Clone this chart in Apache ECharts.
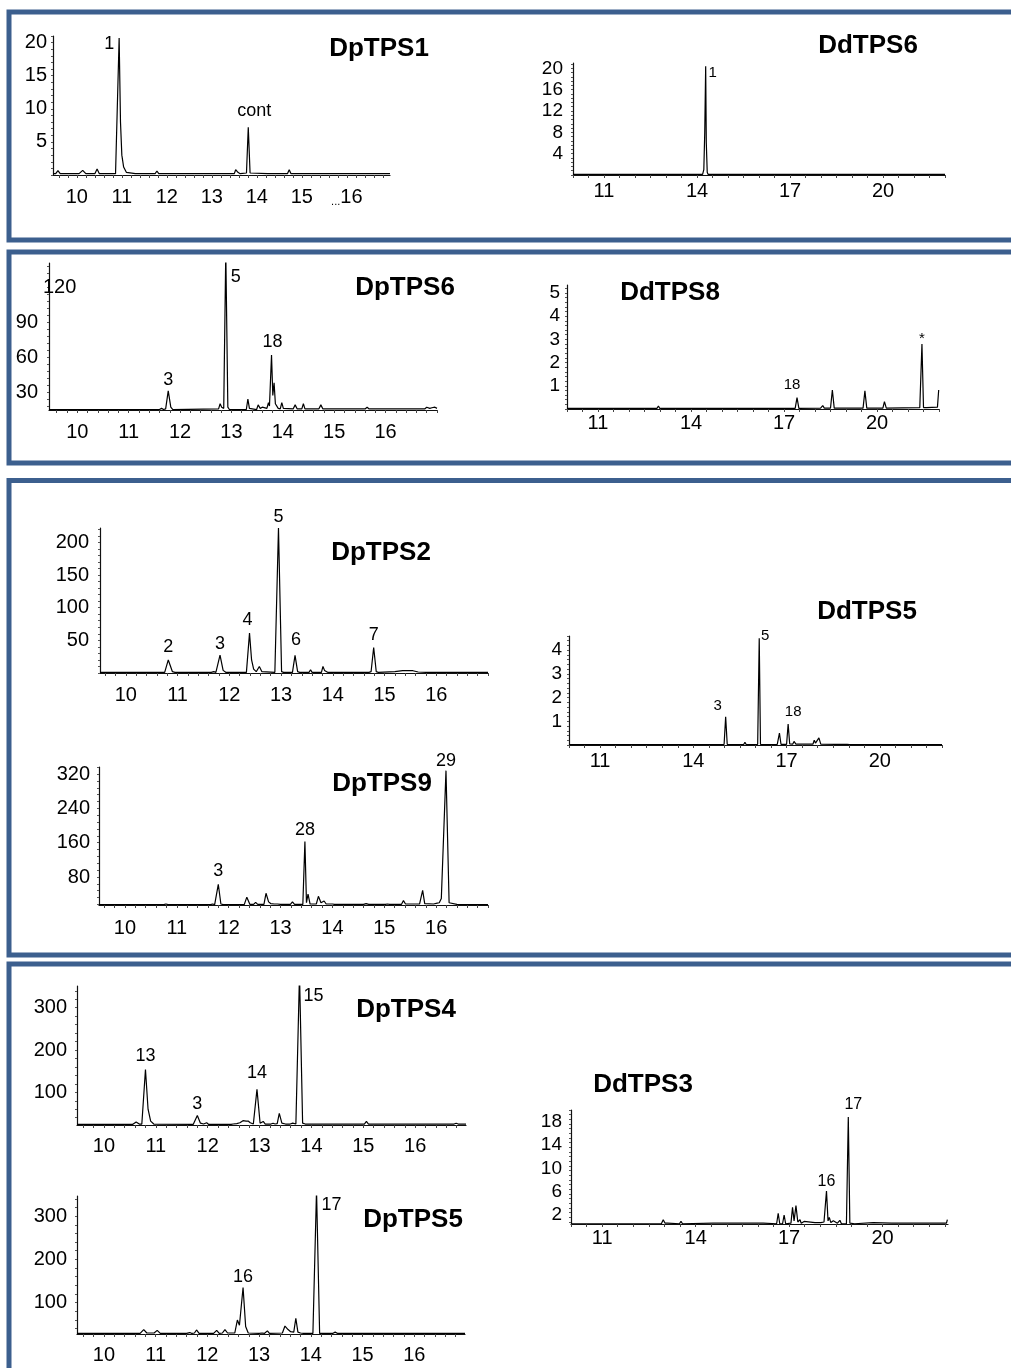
<!DOCTYPE html>
<html><head><meta charset="utf-8">
<script src="https://cdn.jsdelivr.net/npm/echarts@6/dist/echarts.min.js"></script>
<style>html,body{margin:0;padding:0;background:#fff}#c{width:1011px;height:1368px}</style>
</head><body><div id="c"></div>
<script>
// ---------------- DATA (retention time [min], abundance) ----------------
const xTicksDp = [10, 11, 12, 13, 14, 15, 16];
const xTicksDd = [11, 14, 17, 20];

const yTicksDpTPS1 = [5, 10, 15, 20];
const yTicksDdTPS6 = [4, 8, 12, 16, 20];
const yTicksDpTPS6 = [30, 60, 90];
const yTicksDpTPS6Top = [120];
const yTicksDdTPS8 = [1, 2, 3, 4, 5];
const yTicksDpTPS2 = [50, 100, 150, 200];
const yTicksDpTPS9 = [80, 160, 240, 320];
const yTicksDdTPS5 = [1, 2, 3, 4];
const yTicksDpTPS4 = [100, 200, 300];
const yTicksDpTPS5 = [100, 200, 300];
const yTicksDdTPS3 = [2, 6, 10, 14, 18];

const traceDpTPS1 = [[9.47,0.2],[9.53,0.2],[9.58,0.65],[9.63,0.2],[10.05,0.2],[10.13,0.7],[10.2,0.2],[10.4,0.2],[10.45,0.9],[10.5,0.2],[10.78,0.2],[10.82,0.5],[10.86,0.2],[10.89,0.3],[10.94,20.7],[10.97,8],[11.0,3],[11.04,1.2],[11.1,0.4],[11.3,0.2],[11.34,0.4],[11.38,0.2],[11.74,0.2],[11.78,0.6],[11.82,0.2],[12.3,0.2],[12.33,0.35],[12.36,0.2],[12.76,0.2],[12.79,0.45],[12.83,0.2],[13.5,0.2],[13.53,0.8],[13.58,0.4],[13.63,0.2],[13.77,0.3],[13.81,7.2],[13.85,0.3],[14.24,0.2],[14.27,0.4],[14.3,0.2],[14.68,0.2],[14.72,0.8],[14.76,0.2],[15.22,0.2],[15.25,0.3],[15.28,0.2],[16.96,0.2]];
const peaksDpTPS1 = [[10.94,20.7,'1'],[13.81,7.2,'cont']];

const traceDdTPS6 = [[10,0.1],[13.2,0.1],[13.23,0.25],[13.26,0.1],[14.18,0.1],[14.22,1],[14.25,8],[14.28,20.4],[14.3,6],[14.33,0.5],[14.36,0.1],[14.66,0.1],[14.69,0.35],[14.72,0.1],[14.87,0.1],[14.9,0.45],[14.93,0.1],[17.72,0.1],[17.75,0.3],[17.78,0.1],[18.02,0.1],[18.05,0.25],[18.08,0.1],[20.52,0.1],[20.55,0.15],[20.58,0.1],[20.94,0.1],[20.97,0.15],[21.0,0.1],[22,0.1]];
const peaksDdTPS6 = [[14.28,20.4,'1']];

const traceDpTPS6 = [[9.45,15],[11.6,15],[11.64,16],[11.68,15],[11.72,15.5],[11.77,31],[11.82,17],[11.86,15],[12.75,15.5],[12.78,20],[12.81,17],[12.85,16],[12.89,150],[12.93,17],[12.96,15],[13.29,15],[13.32,24],[13.35,16],[13.49,15],[13.52,19],[13.56,16],[13.6,17],[13.63,15.5],[13.69,16],[13.72,21],[13.74,18],[13.78,61.7],[13.805,27],[13.83,38],[13.855,20],[13.88,20],[13.91,16],[13.95,15.5],[13.98,21],[14.01,16],[14.2,15.5],[14.24,19],[14.28,15.5],[14.37,15.5],[14.4,20],[14.43,15.5],[14.7,15.5],[14.74,19],[14.78,15.5],[15.6,15.5],[15.64,17],[15.68,15.5],[16.76,15.5],[16.8,17],[16.86,16],[16.9,16.5],[16.96,17],[17.0,16]];
const peaksDpTPS6 = [[11.77,31,'3'],[12.89,140.6,'5'],[13.78,61.7,'18']];

const traceDdTPS8 = [[10,0.03],[12.9,0.03],[12.95,0.13],[12.99,0.03],[13.47,0.03],[13.52,0.1],[13.56,0.03],[14.5,0.03],[14.56,0.07],[14.62,0.03],[17.36,0.03],[17.42,0.49],[17.48,0.03],[18.18,0.04],[18.25,0.15],[18.3,0.04],[18.5,0.04],[18.56,0.82],[18.62,0.04],[18.85,0.04],[18.89,0.06],[18.93,0.04],[19.55,0.04],[19.61,0.78],[19.67,0.04],[20.19,0.04],[20.24,0.32],[20.3,0.04],[21.38,0.06],[21.45,2.8],[21.5,0.06],[21.55,0.12],[21.6,0.06],[21.95,0.08],[21.99,0.82],[22.0,0.82]];
const peaksDdTPS8 = [[17.42,0.49,'18'],[21.45,2.8,'*']];

const traceDpTPS2 = [[9.5,1],[10.75,1],[10.82,20],[10.9,2],[10.95,1],[11.65,1],[11.7,2],[11.74,1],[11.77,2],[11.82,27.5],[11.88,4],[11.93,1],[12.33,1],[12.39,61],[12.43,20],[12.47,6],[12.52,2],[12.58,10],[12.63,2],[12.88,1],[12.95,222],[13.01,2],[13.05,1],[13.22,1],[13.27,27],[13.32,2],[13.36,1],[13.54,1],[13.57,5],[13.6,1],[13.78,1],[13.81,10],[13.84,4],[13.87,7],[13.9,1],[14.0,1],[14.03,3],[14.06,1],[14.7,1],[14.74,2],[14.79,39],[14.84,2],[14.88,1],[15.2,2],[15.35,3.5],[15.55,3.5],[15.65,1.5],[15.8,1],[15.82,2],[15.85,1],[17.0,1]];
const peaksDpTPS2 = [[10.82,20,'2'],[11.82,27.5,'3'],[12.39,61,'4'],[12.95,222,'5'],[13.27,27,'6'],[14.79,39,'7']];

const traceDpTPS9 = [[9.5,15.5],[10.75,15.5],[10.79,17],[10.83,15.5],[11.65,15.5],[11.69,17],[11.73,15.5],[11.76,16],[11.8,63],[11.85,17],[11.9,15.5],[12.3,15.5],[12.35,33],[12.41,16],[12.48,16],[12.52,21],[12.56,16],[12.68,16],[12.72,42],[12.77,22],[12.81,18],[12.84,20],[12.88,17],[12.94,17],[12.97,19],[13.0,16],[13.19,16],[13.23,22],[13.27,16],[13.43,16],[13.47,163],[13.5,20],[13.53,40],[13.57,17],[13.69,17],[13.73,35],[13.78,20],[13.81,19],[13.84,24],[13.88,17],[14.0,17],[14.04,16],[14.6,16],[14.65,18],[14.7,16],[15.02,16],[15.06,17],[15.1,16],[15.33,16],[15.37,25],[15.41,17],[15.68,17],[15.74,49],[15.78,18],[15.95,17],[16.02,19],[16.06,20],[16.1,30],[16.19,328],[16.25,20],[16.28,16],[16.4,16],[17.0,15.5]];
const peaksDpTPS9 = [[11.8,63,'3'],[13.47,163,'28'],[16.19,328,'29']];

const traceDdTPS5 = [[10,0.02],[13.1,0.02],[13.14,0.05],[13.18,0.02],[13.96,0.02],[14.0,0.07],[14.04,0.02],[14.84,0.02],[14.88,0.07],[14.92,0.02],[14.99,0.03],[15.04,1.19],[15.09,0.03],[15.62,0.02],[15.66,0.12],[15.7,0.02],[16.07,0.03],[16.12,4.5],[16.16,0.03],[16.3,0.02],[16.34,0.07],[16.38,0.02],[16.6,0.02],[16.63,0.05],[16.7,0.03],[16.77,0.5],[16.82,0.03],[17.0,0.03],[17.05,0.88],[17.1,0.05],[17.2,0.04],[17.24,0.15],[17.3,0.04],[17.85,0.04],[17.89,0.2],[17.93,0.08],[17.98,0.1],[18.04,0.3],[18.1,0.04],[18.57,0.03],[18.61,0.1],[18.65,0.03],[18.95,0.03],[18.99,0.05],[19.03,0.02],[20.48,0.02],[20.52,0.04],[20.56,0.02],[20.91,0.02],[20.95,0.07],[20.99,0.02],[22,0.02]];
const peaksDdTPS5 = [[15.04,1.19,'3'],[16.12,4.5,'5'],[17.05,0.88,'18']];

const traceDpTPS4 = [[9.48,24],[10.55,24],[10.62,30],[10.68,25],[10.73,25],[10.8,154],[10.85,60],[10.9,32],[10.96,25],[11.72,24],[11.8,45],[11.86,27],[11.92,25],[11.98,28],[12.02,24],[12.45,24],[12.49,25],[12.56,26],[12.62,28],[12.64,30],[12.68,33],[12.7,35],[12.74,32],[12.78,32],[12.82,28],[12.88,25],[12.95,107],[13.01,27],[13.07,31],[13.11,25],[13.22,25],[13.26,27],[13.3,25],[13.34,26],[13.38,50],[13.43,27],[13.5,25],[13.59,25],[13.64,27],[13.7,25],[13.77,380],[13.83,27],[13.88,25],[13.98,25],[14.0,28],[14.03,25],[14.11,25],[14.13,27],[14.16,25],[15.02,25],[15.06,31],[15.1,25],[16.75,25],[16.79,27],[16.83,25],[16.98,25]];
const peaksDpTPS4 = [[10.8,154,'13'],[11.8,45,'3'],[12.95,107,'14'],[13.77,351,'15']];

const traceDpTPS5 = [[9.48,29],[10.7,29],[10.77,38],[10.83,30],[10.97,30],[11.03,36],[11.09,29],[11.6,29],[11.66,31],[11.7,29],[11.75,30],[11.79,37],[11.84,29],[12.12,29],[12.18,36],[12.23,29],[12.29,30],[12.34,38],[12.39,30],[12.53,30],[12.58,60],[12.62,48],[12.69,135],[12.74,45],[12.79,30],[13.0,29],[13.06,30],[13.1,29],[13.16,35],[13.2,29],[13.45,30],[13.5,46],[13.56,38],[13.61,33],[13.64,35],[13.67,32],[13.71,64],[13.75,32],[13.8,30],[13.82,33],[13.86,29],[14.04,29],[14.11,360],[14.17,29],[14.42,29],[14.47,32],[14.52,29],[14.84,29],[14.87,30],[14.9,29],[16.98,29]];
const peaksDpTPS5 = [[12.69,135,'16'],[14.11,346,'17']];

const traceDdTPS3 = [[10,0.5],[12.9,0.5],[12.96,1.2],[13.02,0.6],[13.1,0.6],[13.15,0.5],[13.48,0.5],[13.53,0.9],[13.58,0.5],[14.57,0.6],[14.97,0.6],[16.17,0.6],[16.6,0.5],[16.65,2.3],[16.7,0.5],[16.79,0.5],[16.84,2.0],[16.89,0.5],[17.06,0.6],[17.11,3.3],[17.16,1.0],[17.22,3.6],[17.28,0.8],[17.31,0.8],[17.35,1.2],[17.39,0.6],[17.45,0.6],[17.48,0.9],[17.52,0.6],[17.83,0.7],[18.02,0.7],[18.12,0.8],[18.2,6.1],[18.25,1.0],[18.29,1.6],[18.34,0.7],[18.38,0.8],[18.42,1.0],[18.47,0.7],[18.55,0.6],[18.63,1.1],[18.68,0.5],[18.84,0.5],[18.9,18.8],[18.95,0.6],[19.1,0.5],[19.7,0.7],[20.29,0.6],[20.61,0.6],[22.05,0.6],[22.08,1.2],[22.1,1.2]];
const peaksDdTPS3 = [[18.2,6.1,'16'],[18.9,18.8,'17']];

// ---------------- LAYOUT / STYLE ----------------
const FONT = '"Liberation Sans", Arial, Helvetica, sans-serif';
const panels = [
  {name:'DpTPS1', kind:'Dp', grid:[53,36,390,175], x:[9.47,16.96], y:[0,21], xl:xTicksDp, yl:yTicksDpTPS1, trace:traceDpTPS1, peaks:peaksDpTPS1,
   off:[[-10,6],[6,-16]], title:[379,49], xm:12, ym:6, dots:true, plf:18},
  {name:'DdTPS6', kind:'Dd', grid:[573,63,945,175], x:[10,22], y:[0,21], xl:xTicksDd, yl:yTicksDdTPS6, trace:traceDdTPS6, peaks:peaksDdTPS6,
   off:[[7,7]], title:[868,46], xm:6, ym:10, plf:15},
  {name:'DpTPS6', kind:'Dp', grid:[49,263,437,410], x:[9.45,17.0], y:[14.6,140.6], xl:xTicksDp, yl:yTicksDpTPS6, trace:traceDpTPS6, peaks:peaksDpTPS6,
   off:[[0,-11],[10,14],[1,-13]], title:[405,288], xm:12, ym:11, plf:18, extraTop:yTicksDpTPS6Top},
  {name:'DdTPS8', kind:'Dd', grid:[567,285,939,409], x:[10,22], y:[0,5.34], xl:xTicksDd, yl:yTicksDdTPS8, trace:traceDdTPS8, peaks:peaksDdTPS8,
   off:[[-5,-13],[0,-5]], title:[670,293], xm:4, ym:7, plf:15},
  {name:'DpTPS2', kind:'Dp', grid:[100,528,488,673], x:[9.5,17.0], y:[0,222], xl:xTicksDp, yl:yTicksDpTPS2, trace:traceDpTPS2, peaks:peaksDpTPS2,
   off:[[0,-13],[0,-11],[-2,-13],[0,-11],[1,-15],[0,-12]], title:[381,553], xm:12, ym:11, plf:18},
  {name:'DpTPS9', kind:'Dp', grid:[99,767,488,905], x:[9.5,17.0], y:[14.7,336.5], xl:xTicksDp, yl:yTicksDpTPS9, trace:traceDpTPS9, peaks:peaksDpTPS9,
   off:[[0,-13],[0,-11],[0,-10]], title:[382,784], xm:13, ym:9, plf:18},
  {name:'DdTPS5', kind:'Dd', grid:[569,636,942,745], x:[10,22], y:[0,4.6], xl:xTicksDd, yl:yTicksDdTPS5, trace:traceDdTPS5, peaks:peaksDdTPS5,
   off:[[-8,-11],[6,-3],[5,-12]], title:[867,612], xm:6, ym:7, plf:15},
  {name:'DpTPS4', kind:'Dp', grid:[77,986,466,1125], x:[9.48,16.98], y:[22.7,351.3], xl:xTicksDp, yl:yTicksDpTPS4, trace:traceDpTPS4, peaks:peaksDpTPS4,
   off:[[0,-13],[0,-12],[0,-16],[14,10]], title:[406,1010], xm:11, ym:10, plf:18},
  {name:'DpTPS5', kind:'Dp', grid:[77,1196,465,1334], x:[9.48,16.98], y:[27.7,346.4], xl:xTicksDp, yl:yTicksDpTPS5, trace:traceDpTPS5, peaks:peaksDpTPS5,
   off:[[0,-11],[15,9]], title:[413,1220], xm:11, ym:10, plf:18},
  {name:'DdTPS3', kind:'Dd', grid:[571,1110,948,1224], x:[10,22.1], y:[0.46,20.0], xl:xTicksDd, yl:yTicksDdTPS3, trace:traceDdTPS3, peaks:peaksDdTPS3,
   off:[[0,-10],[5,-12]], title:[643,1085], xm:4, ym:9, plf:16}
];

function stepsIn(min, max, step) {
  const out = [];
  for (let v = Math.ceil(min / step - 1e-9) * step; v <= max + 1e-9; v += step) out.push(+v.toFixed(4));
  return out;
}

const grids = [], xAxes = [], yAxes = [], series = [], titles = [];
panels.forEach((p, i) => {
  const [l, t, r, b] = p.grid;
  grids.push({left:l, top:t, width:r-l, height:b-t, containLabel:false});
  const xStep = p.kind === 'Dp' ? 0.2 : 0.5;
  const yStep = (p.yl[1] - p.yl[0]) / 5;
  xAxes.push({
    type:'value', gridIndex:i, min:p.x[0], max:p.x[1],
    axisLine:{onZero:false, lineStyle:{color:'#111', width:1.2}},
    axisTick:{show:true, length:3, customValues:stepsIn(p.x[0], p.x[1], xStep), lineStyle:{color:'#444', width:1}},
    axisLabel:{customValues:p.xl, fontSize:20, color:'#000', fontFamily:FONT, margin:p.xm,
      formatter: p.dots ? (v => v === 16 ? '{d|...}16' : String(v)) : (v => String(v)),
      rich:{d:{fontSize:11, color:'#000', fontFamily:FONT, verticalAlign:'bottom', padding:[6,0,0,0]}}},
    splitLine:{show:false}
  });
  yAxes.push({
    type:'value', gridIndex:i, min:p.y[0], max:p.y[1], position:'left',
    axisLine:{onZero:false, lineStyle:{color:'#111', width:1.2}},
    axisTick:{show:true, length:2, customValues:stepsIn(p.y[0], p.y[1], yStep), lineStyle:{color:'#555', width:1}},
    axisLabel:{customValues:p.yl, fontSize:p.kind === 'Dp' ? 20 : 19, color:'#000', fontFamily:FONT, margin:p.ym},
    splitLine:{show:false}
  });
  series.push({
    type:'line', xAxisIndex:i, yAxisIndex:i, data:p.trace, showSymbol:false, symbol:'none',
    lineStyle:{color:'#000', width:1.2}, clip:true, silent:true, z:3
  });
  series.push({
    type:'scatter', xAxisIndex:i, yAxisIndex:i, symbolSize:1, clip:false, silent:true, z:5,
    itemStyle:{color:'rgba(0,0,0,0)', opacity:1},
    data:p.peaks.map((pk, k) => ({name:pk[2], value:[pk[0], pk[1]], label:{offset:p.off[k]}})),
    label:{show:true, position:'inside', formatter:q => q.name, fontSize:p.plf, color:'#000', opacity:1,
      textBorderWidth:0, textBorderColor:'transparent', fontFamily:FONT, align:'center', verticalAlign:'middle'}
  });
  titles.push({text:p.name, left:p.title[0], top:p.title[1], textAlign:'center', textVerticalAlign:'middle', padding:0,
    textStyle:{fontSize:26, fontWeight:'bold', color:'#000', fontFamily:FONT}});
});

// extra left axis on DpTPS6 carrying the shifted "120" label
const p6 = panels[2];
yAxes.push({
  type:'value', gridIndex:2, min:p6.y[0], max:p6.y[1], position:'left', offset:0,
  axisLine:{show:false}, axisTick:{show:false}, splitLine:{show:false},
  axisLabel:{inside:true, customValues:p6.extraTop, fontSize:20, color:'#000', fontFamily:FONT, margin:-6}
});

const BORDER = '#3c5f8e';
const boxes = [[9,12,1100,228],[9,252,1100,211],[9,480.5,1100,474.5],[9,964,1100,500]];

const chart = echarts.init(document.getElementById('c'), null, {renderer:'canvas'});
chart.setOption({
  animation:false,
  backgroundColor:'#fff',
  title:titles,
  grid:grids, xAxis:xAxes, yAxis:yAxes, series:series,
  graphic:boxes.map(bx => ({type:'rect', silent:true, z:100,
    shape:{x:bx[0], y:bx[1], width:bx[2], height:bx[3]},
    style:{fill:'none', stroke:BORDER, lineWidth:5}}))
});
</script></body></html>
